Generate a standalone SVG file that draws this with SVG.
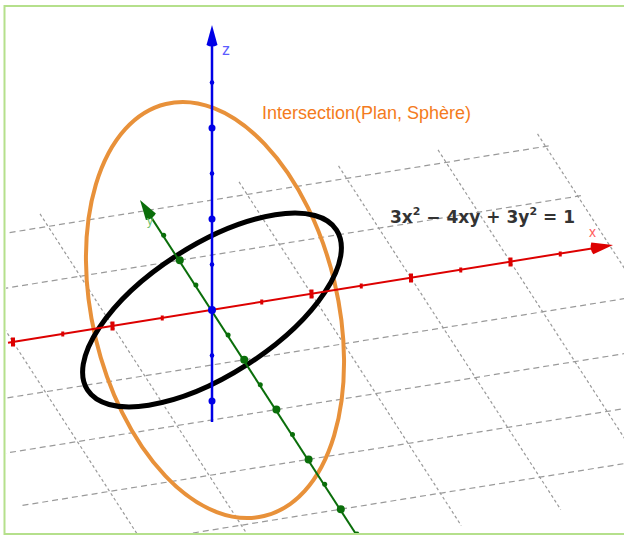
<svg xmlns="http://www.w3.org/2000/svg" width="624" height="539" viewBox="0 0 624 539">
<defs>
<clipPath id="view"><rect x="6" y="7" width="618" height="526"/></clipPath>
<style>
.gx{stroke:#9a9a9a;stroke-width:1.2;stroke-dasharray:6 4;fill:none}
.gy{stroke:#9a9a9a;stroke-width:1.2;stroke-dasharray:3 2.6;fill:none}
.lbl{font-family:"Liberation Sans",Arial,sans-serif}
</style>
</defs>
<rect width="624" height="539" fill="#fff"/>
<g clip-path="url(#view)">
<g id="grid">
<line class="gx" x1="-138.5" y1="256.4" x2="550.6" y2="145.6"/>
<line class="gx" x1="-106.3" y1="306.2" x2="582.8" y2="195.4"/>
<line class="gx" x1="-41.9" y1="405.8" x2="647.2" y2="295"/>
<line class="gx" x1="-9.7" y1="455.6" x2="679.4" y2="344.8"/>
<line class="gx" x1="22.5" y1="505.4" x2="711.6" y2="394.6"/>
<line class="gx" x1="54.7" y1="555.2" x2="743.8" y2="444.4"/>
<line class="gy" x1="-59.45" y1="229.95" x2="162.73" y2="573.57"/>
<line class="gy" x1="40.05" y1="213.95" x2="262.23" y2="557.57"/>
<line class="gy" x1="239.05" y1="181.95" x2="461.23" y2="525.57"/>
<line class="gy" x1="338.55" y1="165.95" x2="560.73" y2="509.57"/>
<line class="gy" x1="438.05" y1="149.95" x2="660.23" y2="493.57"/>
<line class="gy" x1="537.55" y1="133.95" x2="759.73" y2="477.57"/>
</g>
<g id="curves">
<ellipse id="sphere-plane" cx="215" cy="310" rx="122.7" ry="211.8" transform="rotate(-13.4 215 310)" fill="none" stroke="#e8913a" stroke-width="4"/>
<ellipse id="conic" cx="212" cy="310" rx="148" ry="65" transform="rotate(-32.7 212 310)" fill="none" stroke="#000" stroke-width="5"/>
</g>
<g id="axes">
<g id="x-axis" fill="#dd0000" stroke="#dd0000">
<line x1="8" y1="342.8" x2="595" y2="247.9" stroke-width="2"/>
<path d="M613,245 L593.3,254.2 Q589.3,248.8 591.3,242.4 Z" stroke="none"/>
<g stroke-width="4">
<line x1="13" y1="337.5" x2="13" y2="346.5"/>
<line x1="112.5" y1="321.5" x2="112.5" y2="330.5"/>
<line x1="311.5" y1="289.5" x2="311.5" y2="298.5"/>
<line x1="411" y1="273.5" x2="411" y2="282.5"/>
<line x1="510.5" y1="257.5" x2="510.5" y2="266.5"/>
</g>
<g stroke-width="3">
<line x1="62.75" y1="331.5" x2="62.75" y2="336.5"/>
<line x1="162.25" y1="315.5" x2="162.25" y2="320.5"/>
<line x1="261.75" y1="299.5" x2="261.75" y2="304.5"/>
<line x1="361.25" y1="283.5" x2="361.25" y2="288.5"/>
<line x1="460.75" y1="267.5" x2="460.75" y2="272.5"/>
<line x1="560.25" y1="251.5" x2="560.25" y2="256.5"/>
</g>
</g>
<g id="y-axis" fill="#0a6e0a" stroke="#0a6e0a">
<line x1="148" y1="212.4" x2="365" y2="548" stroke-width="2"/>
<path d="M140,200 L155.9,213.5 Q152.5,219.3 145.9,220.1 Z" stroke="none"/>
<g stroke="none">
<circle cx="163.7" cy="235.3" r="2.5"/>
<circle cx="179.8" cy="260.2" r="4"/>
<circle cx="195.9" cy="285.1" r="2.5"/>
<circle cx="228.1" cy="334.9" r="2.5"/>
<circle cx="244.2" cy="359.8" r="4"/>
<circle cx="260.3" cy="384.7" r="2.5"/>
<circle cx="276.4" cy="409.6" r="4"/>
<circle cx="292.5" cy="434.5" r="2.5"/>
<circle cx="308.6" cy="459.4" r="4"/>
<circle cx="324.7" cy="484.3" r="2.5"/>
<circle cx="340.8" cy="509.2" r="4"/>
<circle cx="356.9" cy="534.1" r="2.5"/>
</g>
</g>
<g id="z-axis" fill="#0000e6" stroke="#0000e6">
<line x1="212" y1="422" x2="212" y2="42" stroke-width="2.5"/>
<path d="M212,25 L217.5,45 Q212,48 206.5,45 Z" stroke="none"/>
<g stroke="none">
<circle cx="212" cy="82.5" r="2.3"/>
<circle cx="212" cy="128" r="3.5"/>
<circle cx="212" cy="173.5" r="2.3"/>
<circle cx="212" cy="219" r="3.5"/>
<circle cx="212" cy="264.5" r="2.3"/>
<circle cx="212" cy="310" r="4"/>
<circle cx="212" cy="355.5" r="2.3"/>
<circle cx="212" cy="401" r="3.5"/>
</g>
</g>
</g>
</g>
<g id="labels">
<text class="lbl" x="222" y="55" font-size="16" fill="#5c5cff">z</text>
<text class="lbl" x="589" y="237" font-size="14" fill="#ff5c5c">x</text>
<text class="lbl" x="147" y="225" font-size="12" fill="#6cbf6c">y</text>
<text class="lbl" x="262" y="118.5" font-size="18" fill="#f47b20">Intersection(Plan, Sphère)</text>
<text x="390" y="223" font-family="'DejaVu Sans',sans-serif" font-weight="bold" font-size="17" fill="#333">3x<tspan dy="-8" font-size="11">2</tspan><tspan dy="8"> − 4xy + 3y</tspan><tspan dy="-8" font-size="11">2</tspan><tspan dy="8"> = 1</tspan></text>
</g>
<rect id="frame" x="4.5" y="6" width="640" height="528" fill="none" stroke="#b5e08c" stroke-width="2"/>
</svg>
